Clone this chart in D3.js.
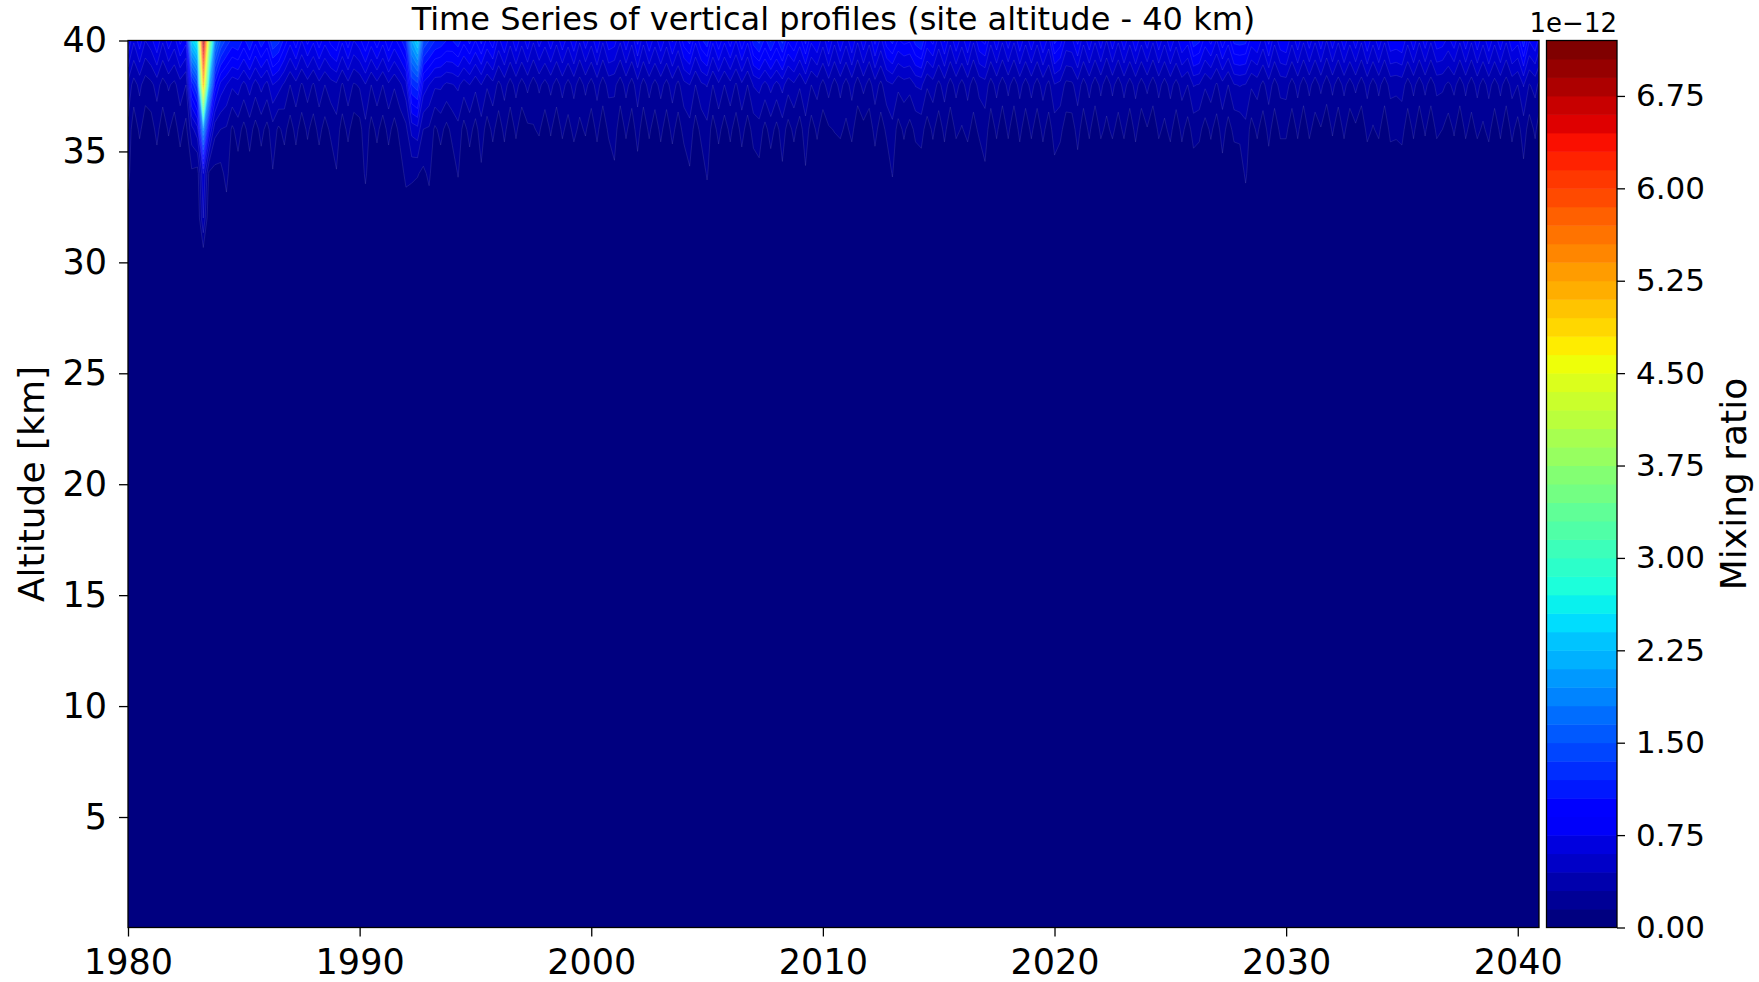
<!DOCTYPE html>
<html>
<head>
<meta charset="utf-8">
<script src="https://cdn.jsdelivr.net/npm/d3@7"></script>
<style>
  body { margin: 0; background: #ffffff; }
  svg { display: block; }
  text { font-family: "DejaVu Sans", sans-serif; fill: #000; }
</style>
</head>
<body>
<svg id="chart" width="1759" height="982"></svg>
<script>
// ---------------- DATA ----------------
// Mixing ratio in units of 1e-14 (hundredths of the colorbar's 1e-12 unit)
// one value per quarter year: 1980.00, 1980.25, 1980.50, 1980.75, ... 2040.75, then Dec 2040
const sampleYears = d3.range(244).map(i => 1980 + i / 4).concat([2040.917]);

// profile levels (km) that carry signal; below 30 km the field stays under the first contour level
const bottomAltitude = 0.02;
const quietAltitude = 30;
const quietValue = 0;

const alt40 = [
  90,62,85,60,  70,90,62,85,  68,95,80,240,  270,715,390,190,  150,130,115,120,
  100,120,95,115,  100,135,125,100,  80,100,75,95,  78,100,80,95,  105,78,100,75,
  85,105,82,100,  80,105,85,100,  120,210,245,150,  135,120,115,105,  105,115,95,110,
  90,110,85,100,  70,90,65,88,  65,85,62,82,  66,85,64,86,  66,88,62,84,
  65,90,62,86,  82,62,86,64,  95,64,88,66,  88,66,92,70,  98,110,78,102,
  115,78,102,78,  98,75,102,78,  112,125,100,122,  100,125,92,105,  82,110,78,90,
  66,92,64,88,  65,90,62,86,  64,95,70,98,  110,88,95,92,  112,120,84,95,
  68,92,64,88,  66,90,62,88,  95,64,86,62,  84,62,88,64,  86,64,90,68,
  110,98,70,72,  95,64,86,62,  84,60,85,62,  86,64,88,64,  84,62,86,64,
  88,66,90,80,  115,108,82,95,  74,100,80,110,  112,110,82,90,  68,95,64,86,
  90,64,86,62,  84,62,85,60,  84,62,86,64,  84,62,88,64,  86,62,88,85,
  90,64,86,62,  84,62,85,82,  70,84,62,85,  62,86,64,88,  64,86,62,88,
  80,115,76,88,  70
];
const alt38 = [
  40,24,34,22,  26,36,24,32,  26,38,30,110,  140,520,220,100,  70,60,48,52,
  40,52,38,50,  40,60,52,42,  30,40,28,38,  28,40,30,38,  42,28,40,28,
  32,44,30,40,  30,42,32,42,  55,120,130,70,  60,48,48,42,  44,48,38,45,
  34,45,32,40,  26,36,24,35,  24,34,23,33,  25,34,24,35,  25,35,23,34,
  24,36,23,35,  33,23,35,24,  38,24,35,25,  35,25,37,26,  40,45,30,42,
  46,30,42,30,  40,28,42,30,  46,50,40,50,  40,50,36,42,  32,44,30,36,
  25,37,24,35,  24,36,23,35,  24,38,26,40,  44,34,38,36,  46,48,32,38,
  26,37,24,35,  25,36,23,35,  38,24,35,23,  34,23,35,24,  35,24,36,26,
  44,40,26,27,  38,24,35,23,  34,22,34,23,  35,24,35,24,  34,23,35,24,
  35,25,36,30,  46,44,32,38,  28,40,30,44,  46,44,32,36,  26,38,24,35,
  36,24,35,23,  34,23,34,22,  34,23,34,24,  34,23,35,24,  34,23,35,34,
  36,24,34,23,  34,23,34,33,  27,34,23,34,  23,35,24,35,  24,34,23,35,
  30,46,29,35,  27
];
const alt36 = [
  26,6,18,7,  8,20,6,17,  8,21,10,40,  55,200,80,35,  30,28,12,22,
  10,22,9,20,  10,24,12,20,  8,20,7,18,  8,20,9,18,  24,8,19,7,
  9,26,9,19,  8,20,9,20,  26,50,55,30,  28,12,20,10,  20,26,9,21,
  9,24,8,19,  7,19,6,18,  6,12,14,17,  7,17,6,18,  10,19,12,17,
  7,19,6,18,  22,6,18,7,  22,6,18,7,  19,7,20,8,  20,25,8,20,
  26,8,20,8,  19,7,21,8,  21,24,10,22,  10,23,9,19,  8,24,8,18,
  7,13,16,18,  12,19,6,10,  7,20,8,18,  26,9,18,9,  19,21,8,18,
  7,19,6,18,  14,19,10,18,  23,7,18,6,  18,6,19,7,  18,7,19,8,
  22,19,8,8,  21,7,18,6,  18,12,18,10,  18,7,19,7,  14,6,18,12,
  19,7,19,9,  21,19,9,18,  8,22,9,19,  20,26,9,18,  7,20,7,18,
  18,7,18,6,  18,10,14,6,  17,7,18,7,  12,6,19,14,  18,6,19,18,
  20,7,18,6,  17,6,18,15,  8,17,6,18,  10,18,13,19,  7,18,6,19,
  9,23,8,18,  8
];
const alt34 = [
  20,2,4,2,  2,6,2,4,  2,6,3,12,  8,60,12,10,  10,20,4,8,
  3,8,3,7,  4,14,4,6,  2,6,2,5,  2,6,3,5,  14,2,5,2,
  3,18,3,6,  2,6,3,8,  19,18,16,12,  18,4,6,3,  6,16,3,6,
  3,12,2,5,  2,5,2,4,  2,5,2,4,  2,4,2,4,  2,5,2,4,
  2,5,2,4,  12,2,4,2,  8,2,4,2,  5,2,5,2,  5,13,2,5,
  17,2,5,2,  5,2,6,2,  7,10,3,6,  3,12,3,5,  2,13,2,5,
  2,5,2,4,  2,5,2,4,  2,7,2,5,  16,3,5,3,  5,7,2,5,
  2,5,2,4,  2,5,2,4,  12,2,4,2,  4,2,5,2,  4,2,5,2,
  10,5,2,2,  8,2,4,2,  4,2,4,2,  4,2,5,2,  4,2,4,2,
  5,2,5,3,  7,5,3,5,  2,9,3,5,  5,18,3,4,  2,7,2,4,
  4,2,4,2,  4,2,4,2,  4,2,4,2,  4,2,5,2,  4,2,5,5,
  6,2,4,2,  4,2,4,3,  2,4,2,4,  2,4,2,5,  2,4,2,5,
  3,11,2,4,  2
];
const alt32 = [
  6,0,0,0,  0,0,0,0,  0,0,0,0,  0,45,0,0,  0,8,0,0,
  0,0,0,0,  0,0,0,0,  0,0,0,0,  0,0,0,0,  3,0,0,0,
  0,5,0,0,  0,0,0,0,  6,4,4,0,  7,0,0,0,  0,4,0,0,
  0,0,0,0,  0,0,0,0,  0,0,0,0,  0,0,0,0,  0,0,0,0,
  0,0,0,0,  0,0,0,0,  0,0,0,0,  0,0,0,0,  0,0,0,0,
  3,0,0,0,  0,0,0,0,  0,0,0,0,  0,0,0,0,  0,0,0,0,
  0,0,0,0,  0,0,0,0,  0,0,0,0,  3,0,0,0,  0,0,0,0,
  0,0,0,0,  0,0,0,0,  0,0,0,0,  0,0,0,0,  0,0,0,0,
  0,0,0,0,  0,0,0,0,  0,0,0,0,  0,0,0,0,  0,0,0,0,
  0,0,0,0,  0,0,0,0,  0,0,0,0,  0,4,0,0,  0,0,0,0,
  0,0,0,0,  0,0,0,0,  0,0,0,0,  0,0,0,0,  0,0,0,0,
  0,0,0,0,  0,0,0,0,  0,0,0,0,  0,0,0,0,  0,0,0,0,
  0,0,0,0,  0
];

const levelStep = 15;      // contour step, 1e-14 units (0.15e-12)
const levelTop = 720;      // 7.20e-12
const yearTicks = [1980, 1990, 2000, 2010, 2020, 2030, 2040];
const altTicks = [5, 10, 15, 20, 25, 30, 35, 40];
const cbarTicks = [0, 0.75, 1.5, 2.25, 3.0, 3.75, 4.5, 5.25, 6.0, 6.75];
const titleText = "Time Series of vertical profiles (site altitude - 40 km)";
const yLabelText = "Altitude [km]";
const cbarLabelText = "Mixing ratio";
const offsetText = "1e\u221212";

// ---------------- LAYOUT ----------------
const plot = { left: 128, right: 1539, top: 40.5, bottom: 927.5 };
const cbar = { left: 1546.5, right: 1617, top: 40.5, bottom: 927.5 };

const svg = d3.select("#chart");

// jet colormap (matplotlib segment data, 256-entry LUT)
function seg(stops) {
  return d3.scaleLinear().domain(stops.map(s => s[0])).range(stops.map(s => s[1])).clamp(true);
}
const jr = seg([[0,0],[0.35,0],[0.66,1],[0.89,1],[1,0.5]]);
const jg = seg([[0,0],[0.125,0],[0.375,1],[0.64,1],[0.91,0],[1,0]]);
const jb = seg([[0,0.5],[0.11,1],[0.34,1],[0.65,0],[1,0]]);
function jet(t) {
  const i = Math.max(0, Math.min(255, Math.floor(t * 256)));
  const u = i / 255;
  return d3.rgb(Math.round(jr(u) * 255), Math.round(jg(u) * 255), Math.round(jb(u) * 255)).formatHex();
}

const levels = d3.range(0, levelTop + 1, levelStep);      // 0..720
const nBands = levels.length - 1;                          // 48
const bandColor = k => jet(k / (nBands - 1));

// scales
const x = d3.scaleLinear().domain([1980, sampleYears[sampleYears.length - 1]]).range([plot.left, plot.right]);
const y = d3.scaleLinear().domain([bottomAltitude, 40]).range([plot.bottom, plot.top]);

// grid (rows bottom -> top)
const n = sampleYears.length;
const quietRow = sampleYears.map(() => quietValue);
const rowAlt = [bottomAltitude, quietAltitude, 32, 34, 36, 38, 40];
const rows = [quietRow, quietRow, alt32, alt34, alt36, alt38, alt40];
const m = rows.length;
const values = [];
rows.forEach(r => r.forEach(v => values.push(v)));

const idxToYear = d3.scaleLinear().domain(d3.range(n)).range(sampleYears);
const idxToAlt = d3.scaleLinear().domain(d3.range(m)).range(rowAlt);
const clamp = (v, a, b) => Math.max(a, Math.min(b, v));

const proj = d3.geoTransform({
  point: function (px, py) {
    const yr = idxToYear(clamp(px - 0.5, 0, n - 1));
    const al = idxToAlt(clamp(py - 0.5, 0, m - 1));
    this.stream.point(x(yr), y(al));
  }
});
const path = d3.geoPath(proj);

const contours = d3.contours().size([n, m]).thresholds(levels.slice(0, nBands))(values);

// clip
svg.append("defs").append("clipPath").attr("id", "plotclip")
  .append("rect").attr("x", plot.left).attr("y", plot.top)
  .attr("width", plot.right - plot.left).attr("height", plot.bottom - plot.top);

const gPlot = svg.append("g").attr("clip-path", "url(#plotclip)");
gPlot.append("rect").attr("x", plot.left).attr("y", plot.top)
  .attr("width", plot.right - plot.left).attr("height", plot.bottom - plot.top)
  .attr("fill", bandColor(0));

gPlot.selectAll("path.band").data(contours.filter(c => c.value > 0)).join("path")
  .attr("class", "band")
  .attr("d", path)
  .attr("fill", c => bandColor(Math.round(c.value / levelStep)))
  .attr("stroke", "none");

// anti-alias seams between filled bands (light lines as in the original)
gPlot.selectAll("path.seam").data(contours.filter(c => c.value > 0)).join("path")
  .attr("class", "seam")
  .attr("d", path)
  .attr("fill", "none")
  .attr("stroke", "#ffffff")
  .attr("stroke-opacity", 0.14)
  .attr("stroke-width", 0.7);

// frame
svg.append("rect").attr("x", plot.left).attr("y", plot.top)
  .attr("width", plot.right - plot.left).attr("height", plot.bottom - plot.top)
  .attr("fill", "none").attr("stroke", "#000").attr("stroke-width", 1.3);

// axes
const xAxis = d3.axisBottom(x).tickValues(yearTicks).tickFormat(d3.format("d")).tickSize(9).tickPadding(12.5);
const gx = svg.append("g").attr("transform", `translate(0,${plot.bottom})`).call(xAxis);
gx.select(".domain").remove();
gx.selectAll("line").attr("stroke", "#000").attr("stroke-width", 1.3);
gx.selectAll("text").attr("font-size", 35).attr("font-family", "DejaVu Sans");

const yAxis = d3.axisLeft(y).tickValues(altTicks).tickFormat(d3.format("d")).tickSize(9).tickPadding(12);
const gy = svg.append("g").attr("transform", `translate(${plot.left},0)`).call(yAxis);
gy.select(".domain").remove();
gy.selectAll("line").attr("stroke", "#000").attr("stroke-width", 1.3);
gy.selectAll("text").attr("font-size", 35).attr("font-family", "DejaVu Sans");

// title & labels
svg.append("text").attr("x", (plot.left + plot.right) / 2).attr("y", 29.5)
  .attr("text-anchor", "middle").attr("font-size", 32).text(titleText);
svg.append("text").attr("transform", `translate(31,${(plot.top + plot.bottom) / 2}) rotate(-90)`)
  .attr("text-anchor", "middle").attr("dy", "0.36em").attr("font-size", 36).text(yLabelText);

// colorbar
const cy = d3.scaleLinear().domain([0, levelTop / 100]).range([cbar.bottom, cbar.top]);
const gc = svg.append("g");
gc.selectAll("rect.cb").data(d3.range(nBands)).join("rect")
  .attr("class", "cb")
  .attr("x", cbar.left).attr("width", cbar.right - cbar.left)
  .attr("y", k => cy(levels[k + 1] / 100))
  .attr("height", k => cy(levels[k] / 100) - cy(levels[k + 1] / 100) + 0.5)
  .attr("fill", k => bandColor(k));
gc.append("rect").attr("x", cbar.left).attr("y", cbar.top)
  .attr("width", cbar.right - cbar.left).attr("height", cbar.bottom - cbar.top)
  .attr("fill", "none").attr("stroke", "#000").attr("stroke-width", 1.3);

const cAxis = d3.axisRight(cy).tickValues(cbarTicks).tickFormat(d3.format(".2f")).tickSize(8).tickPadding(11);
const gca = svg.append("g").attr("transform", `translate(${cbar.right},0)`).call(cAxis);
gca.select(".domain").remove();
gca.selectAll("line").attr("stroke", "#000").attr("stroke-width", 1.3);
gca.selectAll("text").attr("font-size", 31).attr("font-family", "DejaVu Sans");

svg.append("text").attr("x", cbar.right).attr("y", 32).attr("text-anchor", "end")
  .attr("font-size", 26).text(offsetText);
svg.append("text").attr("transform", `translate(1733,${(cbar.top + cbar.bottom) / 2}) rotate(-90)`)
  .attr("text-anchor", "middle").attr("dy", "0.36em").attr("font-size", 36).text(cbarLabelText);
</script>
</body>
</html>
